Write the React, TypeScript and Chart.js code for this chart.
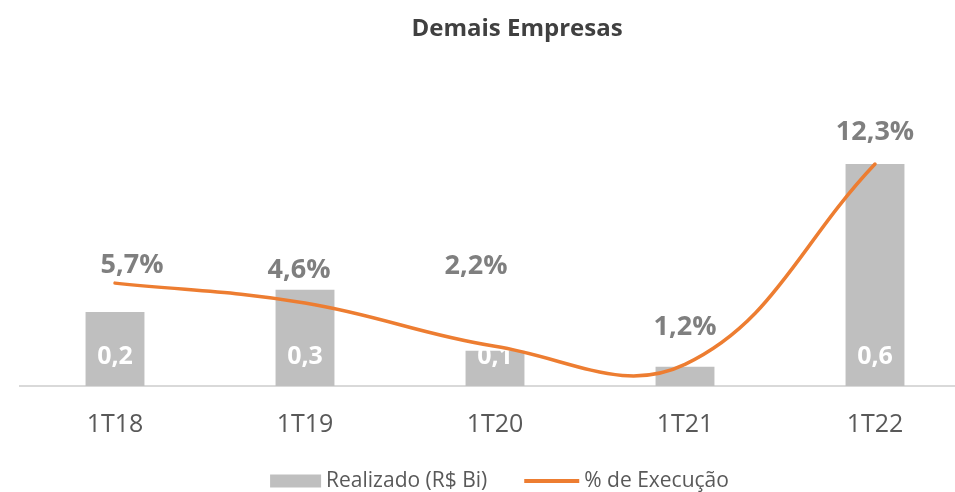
import React, { useEffect, useRef } from 'react';
import { Chart, registerables } from 'chart.js';

Chart.register(...registerables);

// ---- Data ----
const chartTitle = 'Demais Empresas';
const categories = ['1T18', '1T19', '1T20', '1T21', '1T22'];
const realizado = [0.2, 0.26, 0.095, 0.052, 0.6];
const execucao = [5.7, 4.6, 2.2, 1.2, 12.3];
const seriesNames = ['Realizado (R$ Bi)', '% de Execução'];

const FONT = '"Open Sans", "DejaVu Sans", sans-serif';
const BAR_COLOR = '#BFBFBF';
const LINE_COLOR = '#ED7D31';
const fmt = (v: number, d: number) => v.toFixed(d).replace('.', ',');

// label nudges (style only, pixels) for the % labels
const lineLabelNudge = [
  [17, -18],
  [-6, -33],
  [-19, -80],
  [0, -37],
  [0, -32],
];

const customPlugin = {
  id: 'customDecor',
  afterDatasetDraw(chart: any, args: any) {
    if (args.index !== 0) return;
    const ctx = chart.ctx;
    const meta = chart.getDatasetMeta(0);
    const y0 = chart.scales.y.getPixelForValue(0);
    ctx.save();
    ctx.font = `bold 25px ${FONT}`;
    ctx.fillStyle = '#FFFFFF';
    ctx.textAlign = 'center';
    ctx.textBaseline = 'middle';
    meta.data.forEach((el: any, i: number) => {
      ctx.fillText(fmt(realizado[i], 1), el.x, y0 - 29);
    });
    ctx.restore();
  },
  afterDatasetsDraw(chart: any) {
    const ctx = chart.ctx;
    const meta = chart.getDatasetMeta(1);
    ctx.save();
    ctx.font = `bold 27px ${FONT}`;
    ctx.fillStyle = '#7F7F7F';
    ctx.textAlign = 'center';
    ctx.textBaseline = 'middle';
    meta.data.forEach((el: any, i: number) => {
      const [dx, dy] = lineLabelNudge[i];
      ctx.fillText(fmt(execucao[i], 1) + '%', el.x + dx, el.y + dy);
    });
    ctx.restore();
  },
  afterDraw(chart: any) {
    const ctx = chart.ctx;
    ctx.save();
    // title
    ctx.font = `bold 24px ${FONT}`;
    ctx.fillStyle = '#404040';
    ctx.textAlign = 'center';
    ctx.textBaseline = 'middle';
    ctx.fillText(chartTitle, 517, 29);

    // legend
    ctx.font = `21px ${FONT}`;
    const w1 = ctx.measureText(seriesNames[0]).width;
    const w2 = ctx.measureText(seriesNames[1]).width;
    const rectW = 51, lineW = 55, gapT = 5, gapI = 37;
    const total = rectW + gapT + w1 + gapI + lineW + gapT + w2;
    let x = 499.5 - total / 2;
    const cy = 481;
    ctx.fillStyle = BAR_COLOR;
    ctx.fillRect(x, cy - 6.5, rectW, 13);
    x += rectW + gapT;
    ctx.fillStyle = '#595959';
    ctx.textAlign = 'left';
    ctx.fillText(seriesNames[0], x, cy);
    x += w1 + gapI;
    ctx.strokeStyle = LINE_COLOR;
    ctx.lineWidth = 4;
    ctx.beginPath();
    ctx.moveTo(x, cy);
    ctx.lineTo(x + lineW, cy);
    ctx.stroke();
    x += lineW + gapT;
    ctx.fillText(seriesNames[1], x, cy);
    ctx.restore();
  },
};

export default function App() {
  const ref = useRef<HTMLCanvasElement>(null);

  useEffect(() => {
    const chart = new Chart(ref.current as HTMLCanvasElement, {
      type: 'bar',
      data: {
        labels: categories,
        datasets: [
          {
            type: 'bar',
            label: seriesNames[0],
            data: realizado,
            backgroundColor: BAR_COLOR,
            borderWidth: 0,
            barPercentage: 0.31,
            categoryPercentage: 1,
            yAxisID: 'y',
            order: 1,
          } as any,
          {
            type: 'line',
            label: seriesNames[1],
            data: execucao,
            borderColor: LINE_COLOR,
            backgroundColor: LINE_COLOR,
            borderWidth: 3.5,
            tension: 0.4,
            capBezierPoints: false,
            pointRadius: 0,
            pointHoverRadius: 0,
            borderCapStyle: 'round',
            clip: false,
            yAxisID: 'y1',
            order: 0,
          } as any,
        ],
      },
      options: {
        responsive: false,
        animation: false,
        events: [],
        layout: { padding: { top: 90, left: 20, right: 30, bottom: 28 } },
        plugins: {
          legend: { display: false },
          title: { display: false },
          tooltip: { enabled: false },
        },
        scales: {
          x: {
            grid: { display: false, drawTicks: false },
            border: { color: '#D9D9D9', width: 2 },
            ticks: {
              color: '#595959',
              font: { family: FONT, size: 25 },
              padding: 24,
            },
          },
          y: { display: false, min: 0, max: 0.8 },
          y1: { display: false, min: 0, max: 16.4, position: 'right' },
        },
      },
      plugins: [customPlugin],
    });
    return () => chart.destroy();
  }, []);

  return (
    <div
      style={{
        position: 'fixed',
        left: 0,
        top: 0,
        width: 955,
        height: 492,
        overflow: 'hidden',
        background: '#FFFFFF',
      }}
    >
      <canvas ref={ref} width={1000} height={492} style={{ display: 'block' }} />
    </div>
  );
}
